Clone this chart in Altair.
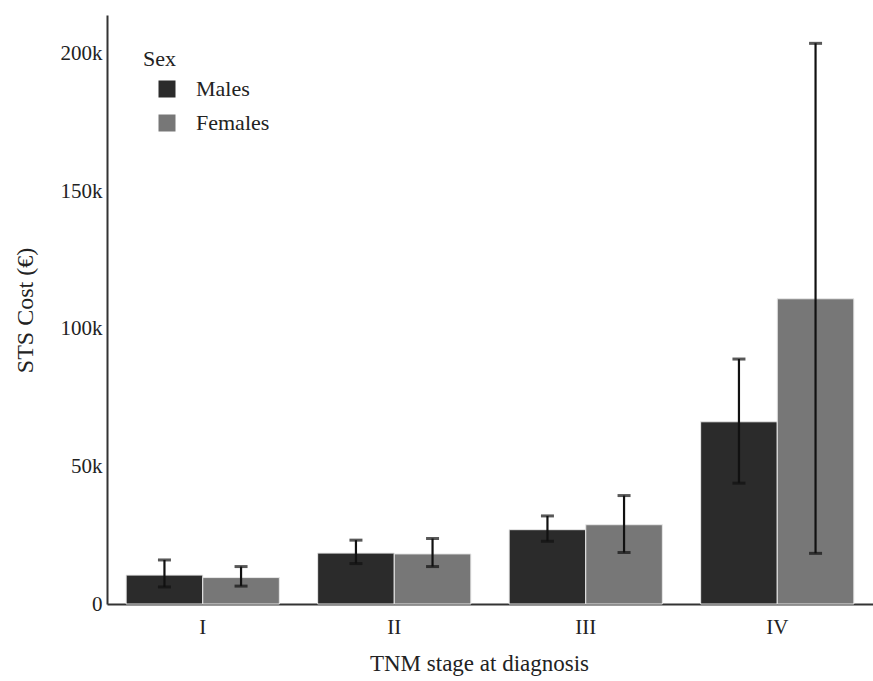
import altair as alt
import pandas as pd

stages = ["I", "II", "III", "IV"]
sexes = ["Males", "Females"]
males_mean = [10500, 18500, 27000, 66200]
males_lo = [6200, 14700, 22800, 43900]
males_hi = [16000, 23200, 32000, 89000]
females_mean = [9600, 18200, 28800, 110900]
females_lo = [6500, 13600, 18700, 18400]
females_hi = [13600, 23800, 39400, 203700]
legend_title = ["Sex"]

rows = []
for i, s in enumerate(stages):
    rows.append({"stage": s, "sex": "Males", "mean": males_mean[i], "lo": males_lo[i], "hi": males_hi[i]})
    rows.append({"stage": s, "sex": "Females", "mean": females_mean[i], "lo": females_lo[i], "hi": females_hi[i]})
df = pd.DataFrame(rows)

FONT = "Liberation Serif"

x_enc = alt.X("stage:N", sort=stages,
              scale=alt.Scale(paddingInner=0.2, paddingOuter=0.1),
              axis=alt.Axis(title="TNM stage at diagnosis", labelAngle=0, ticks=False,
                            labelPadding=12, labelFontSize=21, titleFontSize=23,
                            titleX=372, titleY=59, titleBaseline="middle",
                            domainColor="#333333", domainWidth=2, grid=False))
xo_enc = alt.XOffset("sex:N", sort=sexes, scale=alt.Scale(paddingInner=0, paddingOuter=0))
y_scale = alt.Scale(domain=[0, 214000], nice=False)

bars = alt.Chart(df).mark_bar(stroke="#e8e8e8", strokeWidth=1).encode(
    x=x_enc,
    xOffset=xo_enc,
    y=alt.Y("mean:Q", scale=y_scale,
            axis=alt.Axis(title="STS Cost (€)", values=[0, 50000, 100000, 150000, 200000],
                          labelExpr="datum.value == 0 ? '0' : format(datum.value, '~s')",
                          ticks=False, labelPadding=5, labelFontSize=21, titleFontSize=24,
                          titleX=-82, titleY=295, titleAngle=270, titleBaseline="middle",
                          titleAlign="center", domainColor="#333333", domainWidth=2, grid=False)),
    color=alt.Color("sex:N", sort=sexes,
                    scale=alt.Scale(domain=sexes, range=["#2b2b2b", "#777777"]),
                    legend=alt.Legend(title=None, orient="none", legendX=49, legendY=63,
                                      symbolType="square", symbolSize=289, symbolStrokeWidth=0,
                                      symbolOpacity=1, labelFontSize=22, labelOffset=18,
                                      labelFont=FONT, labelColor="#222222",
                                      rowPadding=12)),
)

rules = alt.Chart(df).mark_rule(color="#111111", strokeWidth=2.2).encode(
    x=alt.X("stage:N", sort=stages),
    xOffset=alt.XOffset("sex:N", sort=sexes),
    y=alt.Y("lo:Q", scale=y_scale),
    y2="hi:Q",
)

caps_hi = alt.Chart(df).mark_tick(color="#111111", thickness=3, size=13).encode(
    x=alt.X("stage:N", sort=stages),
    xOffset=alt.XOffset("sex:N", sort=sexes),
    y=alt.Y("hi:Q", scale=y_scale),
)
caps_lo = alt.Chart(df).mark_tick(color="#111111", thickness=3, size=13).encode(
    x=alt.X("stage:N", sort=stages),
    xOffset=alt.XOffset("sex:N", sort=sexes),
    y=alt.Y("lo:Q", scale=y_scale),
)

title_txt = alt.Chart(pd.DataFrame({"t": legend_title})).mark_text(
    align="left", baseline="middle", fontSize=22, fontWeight="normal",
    font=FONT, color="#222222").encode(
    x=alt.value(36), y=alt.value(44), text="t:N")

chart = alt.layer(bars, rules, caps_hi, caps_lo, title_txt).properties(
    width=766, height=589,
    autosize=alt.AutoSizeParams(type="none"),
    padding={"left": 107, "top": 15, "right": 0, "bottom": 77},
).configure(font=FONT).configure_view(stroke=None).configure_axis(
    labelFont=FONT, titleFont=FONT, labelColor="#222222", titleColor="#222222",
    titleFontWeight="normal"
).configure_legend(labelFont=FONT, labelColor="#222222")

chart.save("out.html", embed_options={"renderer": "svg", "actions": False})
